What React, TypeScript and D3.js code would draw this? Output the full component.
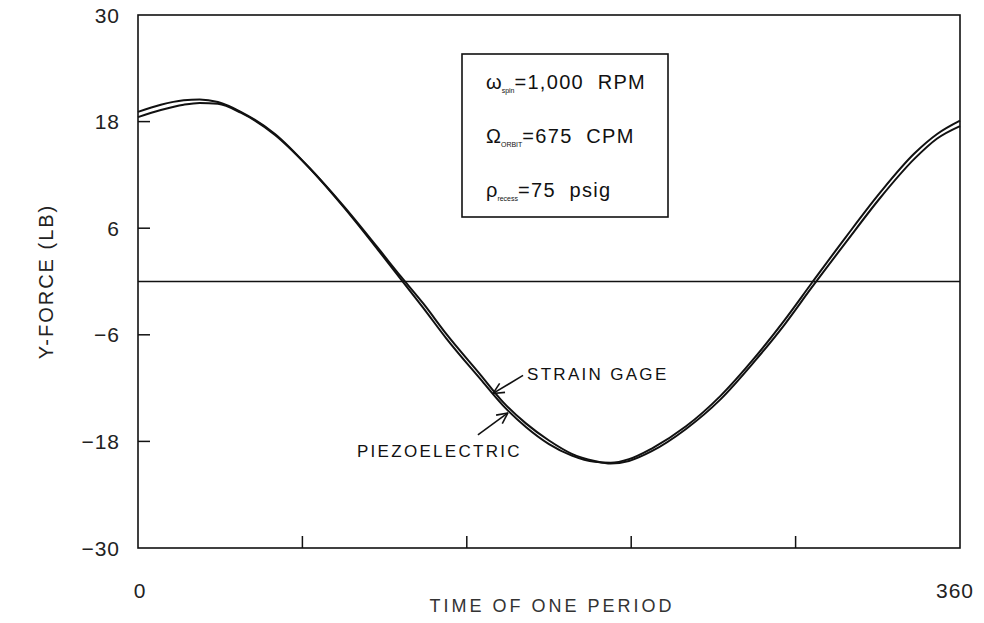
import React, { useEffect, useRef } from "react";
import * as d3 from "d3";

const theta = [0, 10, 20, 27, 35, 45, 60, 75, 90, 105, 115, 125, 135, 150, 160, 170, 180, 190, 200, 207, 215, 225, 240, 255, 270, 283, 295, 310, 325, 340, 350, 360];
const strainGage = [19.1, 19.9, 20.4, 20.5, 20.2, 19.1, 16.6, 12.8, 8.4, 3.6, 0.3, -3.0, -6.4, -11.0, -14.0, -16.4, -18.3, -19.6, -20.3, -20.4, -20.0, -18.8, -16.3, -12.9, -8.6, -4.4, -0.2, 5.0, 10.0, 14.4, 16.6, 18.1];
const piezoelectric = [18.5, 19.3, 19.9, 20.1, 20.0, 19.0, 16.5, 12.8, 8.5, 3.8, 0.6, -2.5, -5.9, -10.5, -13.6, -16.0, -17.9, -19.4, -20.2, -20.5, -20.2, -19.1, -16.6, -13.3, -9.0, -4.9, -0.7, 4.4, 9.4, 13.8, 16.1, 17.5];

const yTicks = [30, 18, 6, -6, -18, -30];
const xTicks = [72, 144, 216, 288];
const xLabels = [0, 360];

const Chart = () => {
  const ref = useRef<SVGSVGElement>(null);

  useEffect(() => {
    const width = 984;
    const height = 623;
    const margin = { top: 15, right: 24, bottom: 75, left: 138 };
    const font = "'Liberation Sans', Arial, sans-serif";

    const svg = d3.select(ref.current);
    svg.selectAll("*").remove();
    svg.attr("width", width).attr("height", height);
    svg.append("rect").attr("width", width).attr("height", height).attr("fill", "#fff");

    const x = d3.scaleLinear().domain([0, 360]).range([margin.left, width - margin.right]);
    const y = d3.scaleLinear().domain([-30, 30]).range([height - margin.bottom, margin.top]);

    // frame
    svg
      .append("rect")
      .attr("x", x(0))
      .attr("y", y(30))
      .attr("width", x(360) - x(0))
      .attr("height", y(-30) - y(30))
      .attr("fill", "none")
      .attr("stroke", "#111")
      .attr("stroke-width", 1.6);

    // left ticks (inward)
    svg
      .append("g")
      .selectAll("line")
      .data(yTicks.filter((d) => d !== 30 && d !== -30))
      .join("line")
      .attr("x1", x(0))
      .attr("x2", x(0) + 12)
      .attr("y1", (d) => y(d))
      .attr("y2", (d) => y(d))
      .attr("stroke", "#111")
      .attr("stroke-width", 1.5);

    svg
      .append("g")
      .selectAll("text")
      .data(yTicks)
      .join("text")
      .attr("x", x(0) - 18)
      .attr("y", (d) => y(d))
      .attr("dy", "0.36em")
      .attr("text-anchor", "end")
      .attr("font-family", font)
      .attr("font-size", 21)
      .attr("letter-spacing", 1)
      .attr("fill", "#222")
      .text((d) => (d < 0 ? "\u2212" + Math.abs(d) : String(d)));

    // bottom ticks (inward)
    svg
      .append("g")
      .selectAll("line")
      .data(xTicks)
      .join("line")
      .attr("x1", (d) => x(d))
      .attr("x2", (d) => x(d))
      .attr("y1", y(-30))
      .attr("y2", y(-30) - 12)
      .attr("stroke", "#111")
      .attr("stroke-width", 1.5);

    svg
      .append("g")
      .selectAll("text")
      .data(xLabels)
      .join("text")
      .attr("x", (d) => (d === 0 ? x(d) + 2 : x(d) - 5))
      .attr("y", y(-30) + 42)
      .attr("dy", "0.36em")
      .attr("text-anchor", "middle")
      .attr("font-family", font)
      .attr("font-size", 21)
      .attr("letter-spacing", 1)
      .attr("fill", "#222")
      .text((d) => String(d));

    // zero line
    svg
      .append("line")
      .attr("x1", x(0))
      .attr("x2", x(360))
      .attr("y1", y(0))
      .attr("y2", y(0))
      .attr("stroke", "#111")
      .attr("stroke-width", 1.6);

    const line = d3
      .line<number>()
      .x((_, i) => x(theta[i]))
      .y((d) => y(d))
      .curve(d3.curveMonotoneX);

    [strainGage, piezoelectric].forEach((s) => {
      svg
        .append("path")
        .datum(s)
        .attr("fill", "none")
        .attr("stroke", "#111")
        .attr("stroke-width", 2)
        .attr("d", line);
    });

    // axis titles
    svg
      .append("text")
      .attr("transform", `translate(46,${y(0)}) rotate(-90)`)
      .attr("text-anchor", "middle")
      .attr("dy", "0.36em")
      .attr("font-family", font)
      .attr("font-size", 20)
      .attr("letter-spacing", 2)
      .attr("fill", "#222")
      .text("Y-FORCE (LB)");

    svg
      .append("text")
      .attr("x", 552)
      .attr("y", 606)
      .attr("text-anchor", "middle")
      .attr("dy", "0.36em")
      .attr("font-family", font)
      .attr("font-size", 18)
      .attr("letter-spacing", 3)
      .attr("fill", "#333")
      .text("TIME OF ONE PERIOD");

    // parameter box
    svg
      .append("rect")
      .attr("x", 462)
      .attr("y", 54)
      .attr("width", 206)
      .attr("height", 163)
      .attr("fill", "#fff")
      .attr("stroke", "#111")
      .attr("stroke-width", 1.6);

    const params = [
      { sym: "\u03c9", sub: "spin", rest: "=1,000  RPM" },
      { sym: "\u03a9", sub: "ORBIT", rest: "=675  CPM" },
      { sym: "\u03c1", sub: "recess", rest: "=75  psig" },
    ];
    params.forEach((p, i) => {
      const t = svg
        .append("text")
        .attr("x", 486)
        .attr("y", 89 + i * 54)
        .attr("font-family", font)
        .attr("font-size", 20)
        .attr("fill", "#111")
        .style("white-space", "pre");
      t.append("tspan").text(p.sym);
      t.append("tspan").attr("font-size", 7).attr("dy", 4).text(p.sub);
      t.append("tspan").attr("dy", -4).attr("letter-spacing", 1.3).text(p.rest);
    });

    // annotations
    const notes = [
      { label: "STRAIN GAGE", at: 155.5, v: -12.6, dx: 30, dy: -18, anchor: "start", tx: 34, ty: -20 },
      { label: "PIEZOELECTRIC", at: 162, v: -14.8, dx: -30, dy: 22, anchor: "end", tx: 14, ty: 38 },
    ];
    notes.forEach((n) => {
      const px = x(n.at);
      const py = y(n.v);
      const ang = Math.atan2(-n.dy, -n.dx);
      const head = 12;
      svg
        .append("line")
        .attr("x1", px + n.dx)
        .attr("y1", py + n.dy)
        .attr("x2", px)
        .attr("y2", py)
        .attr("stroke", "#111")
        .attr("stroke-width", 1.6);
      [0.45, -0.45].forEach((a) => {
        svg
          .append("line")
          .attr("x1", px)
          .attr("y1", py)
          .attr("x2", px - head * Math.cos(ang + a))
          .attr("y2", py - head * Math.sin(ang + a))
          .attr("stroke", "#111")
          .attr("stroke-width", 1.6);
      });
      svg
        .append("text")
        .attr("x", px + n.tx)
        .attr("y", py + n.ty)
        .attr("dy", "0.36em")
        .attr("text-anchor", n.anchor)
        .attr("font-family", font)
        .attr("font-size", 17)
        .attr("letter-spacing", 2.3)
        .attr("fill", "#111")
        .text(n.label);
    });
  }, []);

  return <svg ref={ref}></svg>;
};

export default function App() {
  return (
    <div style={{ position: "absolute", left: 0, top: 0 }}>
      <Chart />
    </div>
  );
}
